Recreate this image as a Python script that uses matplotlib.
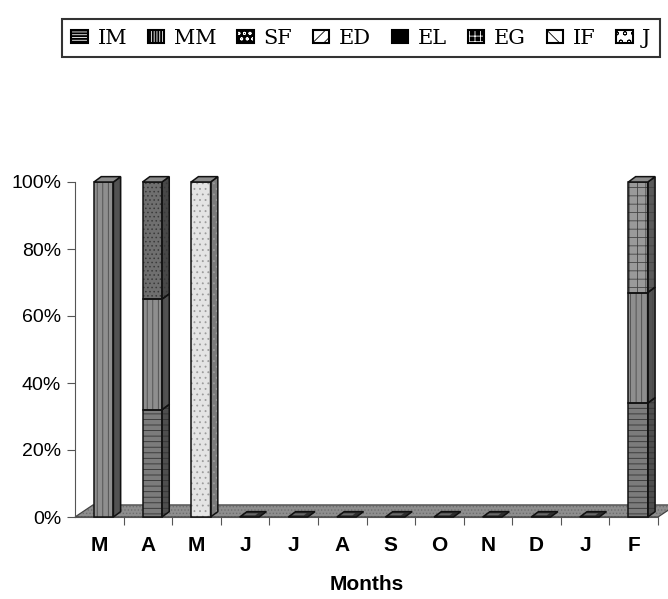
import numpy as np
import matplotlib
matplotlib.use("Agg")
import matplotlib.pyplot as plt
from matplotlib.patches import Polygon, Rectangle
from matplotlib.legend_handler import HandlerTuple

plt.rcParams['font.family'] = ['Liberation Sans', 'DejaVu Sans']
plt.rcParams['hatch.linewidth'] = 0.6

# data: percent of each category per month
months = ['M', 'A', 'M', 'J', 'J', 'A', 'S', 'O', 'N', 'D', 'J', 'F']
series_names = ['IM', 'MM', 'SF', 'ED', 'EL', 'EG', 'IF', 'J']
IM = [0, 32, 0, 0, 0, 0, 0, 0, 0, 0, 0, 34]
MM = [100, 33, 0, 0, 0, 0, 0, 0, 0, 0, 0, 33]
SF = [0, 35, 0, 0, 0, 0, 0, 0, 0, 0, 0, 0]
ED = [0, 0, 0, 0, 0, 0, 0, 0, 0, 0, 0, 0]
EL = [0, 0, 0, 0, 0, 0, 0, 0, 0, 0, 0, 0]
EG = [0, 0, 0, 0, 0, 0, 0, 0, 0, 0, 0, 33]
IF = [0, 0, 0, 0, 0, 0, 0, 0, 0, 0, 0, 0]
J = [0, 0, 100, 0, 0, 0, 0, 0, 0, 0, 0, 0]
series = [IM, MM, SF, ED, EL, EG, IF, J]

# front face colour, hatch colour, hatch, side colour
styles = {
    'IM': ('#7c7c7c', '#333333', '---', '#4e4e4e'),
    'MM': ('#8e8e8e', '#4a4a4a', '|||', '#525252'),
    'SF': ('#6f6f6f', '#3a3a3a', '....', '#484848'),
    'ED': ('#bbbbbb', '#555555', '//', '#777777'),
    'EL': ('#333333', '#111111', '', '#222222'),
    'EG': ('#9a9a9a', '#444444', '++', '#5a5a5a'),
    'IF': ('#e0e0e0', '#999999', '..', '#888888'),
    'J': ('#e4e4e4', '#9c9c9c', '...', '#7c7c7c'),
}

W, H = 668, 599
fig = plt.figure(figsize=(W / 100, H / 100), dpi=100)
ax = fig.add_axes([75 / W, 82 / H, 583 / W, 335 / H])
ax.set_xlim(0, 12)
ax.set_ylim(0, 100)

bw = 0.40      # front face width (category units)
shift = 0.09   # bar offset from category centre
ddx, ddy = 0.15, 1.6   # bar depth
fdx, fdy = 0.37, 3.6   # floor depth

# floor
floor_pts = [(0, 0), (12, 0), (12 + fdx, fdy), (fdx, fdy)]
ax.add_patch(Polygon(floor_pts, closed=True, facecolor='#8e8e8e', edgecolor='#6e6e6e',
                     hatch='.....', lw=0, clip_on=False, zorder=1))
ax.add_patch(Polygon(floor_pts, closed=True, fill=False, edgecolor='#444444', lw=0.9,
                     clip_on=False, zorder=1.1))

x = np.arange(len(months)) + 0.5 + shift
bottom = np.zeros(len(months))
for name, vals in zip(series_names, series):
    vals = np.array(vals, dtype=float)
    fc, hc, hatch, sc = styles[name]
    mask = vals > 0
    if mask.any():
        ax.bar(x[mask], vals[mask], bw, bottom=bottom[mask], color=fc, edgecolor=hc,
               hatch=hatch, lw=0, zorder=3, clip_on=False)
        ax.bar(x[mask], vals[mask], bw, bottom=bottom[mask], fill=False,
               edgecolor='#111111', lw=1.1, zorder=3.2, clip_on=False)
        for xi, b, v in zip(x[mask], bottom[mask], vals[mask]):
            xr = xi + bw / 2
            side = [(xr, b), (xr + ddx, b + ddy), (xr + ddx, b + v + ddy), (xr, b + v)]
            ax.add_patch(Polygon(side, closed=True, facecolor=sc, edgecolor=hc,
                                 hatch=hatch, lw=0, zorder=3, clip_on=False))
            ax.add_patch(Polygon(side, closed=True, fill=False, edgecolor='#111111',
                                 lw=1.1, zorder=3.2, clip_on=False))
    bottom = bottom + vals

# tops of bars (and flat markers for empty months)
for xi, t in zip(x, bottom):
    xl, xr = xi - bw / 2, xi + bw / 2
    top = [(xl, t), (xl + ddx, t + ddy), (xr + ddx, t + ddy), (xr, t)]
    if t > 0:
        ax.add_patch(Polygon(top, closed=True, facecolor='#8c8c8c', edgecolor='#111111',
                             lw=1.1, zorder=3.3, clip_on=False))
    else:
        ax.add_patch(Polygon(top, closed=True, facecolor='#2e2e2e', edgecolor='#111111',
                             lw=1.1, zorder=3.3, clip_on=False))
        inner = [(xl + 0.08, t + 0.5), (xl + 0.08 + 0.06, t + 1.1),
                 (xr - 0.02, t + 1.1), (xr - 0.08, t + 0.5)]
        ax.add_patch(Polygon(inner, closed=True, facecolor='#6a6a6a', edgecolor='none',
                             zorder=3.4, clip_on=False))

# axes styling
for s in ['top', 'right']:
    ax.spines[s].set_visible(False)
ax.spines['left'].set_color('#555555')
ax.spines['bottom'].set_color('#555555')
ax.spines['left'].set_bounds(0, 100)
ax.set_yticks(np.arange(0, 101, 20))
ax.set_yticklabels([f'{v}%' for v in range(0, 101, 20)], fontsize=14)
ax.set_xticks(np.arange(1, 13))
ax.set_xticklabels([])
ax.set_xticks(np.arange(len(months)) + 0.5, minor=True)
ax.set_xticklabels(months, minor=True, fontsize=15, fontweight='bold')
ax.tick_params(axis='y', length=6, color='#555555', pad=4)
ax.tick_params(axis='x', which='major', length=6, color='#555555')
ax.tick_params(axis='x', which='minor', length=0, pad=14)
ax.set_xlabel('Months', fontsize=15, fontweight='bold', labelpad=14)

# legend
def handle(fc, hc, hatch):
    a = Rectangle((0, 0), 1, 1, facecolor=fc, edgecolor=hc, hatch=hatch, lw=0)
    b = Rectangle((0, 0), 1, 1, facecolor='none', edgecolor='black', lw=1.5)
    return (a, b)

leg_styles = [('black', 'white', '------'), ('black', 'white', '||||||'),
              ('black', 'white', 'ooo'), ('white', 'black', '///'),
              ('black', 'black', ''), ('black', 'white', '+++'),
              ('white', 'black', '\\\\'), ('white', 'black', 'oo')]
handles = [handle(*s) for s in leg_styles]
leg = fig.legend(handles, series_names, ncol=8, loc='upper center',
                 bbox_to_anchor=(361 / W, 1 - 9 / H),
                 handler_map={tuple: HandlerTuple(ndivide=1)},
                 prop={'family': 'DejaVu Serif', 'size': 15},
                 handlelength=0.8, handleheight=0.65, handletextpad=0.45,
                 columnspacing=1.0, frameon=True, fancybox=False,
                 borderpad=0.45, edgecolor='black')
leg.get_frame().set_linewidth(1.5)

fig.savefig('out.png', dpi=100, facecolor='white')
